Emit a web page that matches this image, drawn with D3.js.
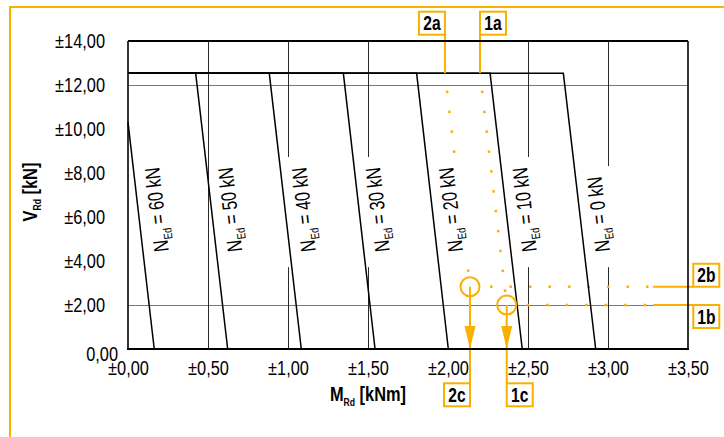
<!DOCTYPE html>
<html lang="en">
<head>
<meta charset="UTF-8">
<title>V-M Interaktion</title>
<script src="https://d3js.org/d3.v7.min.js"></script>
<style>
  body { margin: 0; background: #fff; }
  svg { display: block; font-family: "Liberation Sans", Arial, sans-serif; }
  .axis text { font-size: 21px; fill: #000; }
  .axis path, .axis line { display: none; }
</style>
</head>
<body>
<script>
// N_Ed curves, points [M_Rd, V_Rd]
var nEd = [60, 50, 40, 30, 20, 10, 0];
var curves = [
  [[0, 10.3], [0.164, 0]],
  [[0, 12.53], [0.423, 12.53], [0.623, 0]],
  [[0, 12.53], [0.883, 12.53], [1.083, 0]],
  [[0, 12.53], [1.346, 12.53], [1.544, 0]],
  [[0, 12.53], [1.804, 12.53], [2.002, 0]],
  [[0, 12.53], [2.263, 12.53], [2.464, 0]],
  [[0, 12.53], [2.721, 12.53], [2.923, 0]]
];
var capV = 12.53;
var labelV = 4.5;

var xTicks = [0, 0.5, 1, 1.5, 2, 2.5, 3, 3.5];
var yTicks = [0, 2, 4, 6, 8, 10, 12, 14];
var xGrid = [0.5, 1, 1.5, 2.5, 3];
var yGrid = [2, 12];

// reading example 1 and 2
var noteIds = ["1", "2"];
var noteMa = [2.2, 1.981];
var noteVb = [2.0, 2.83];
var noteMc = [2.367, 2.1375];
var noteSide = [1, -1];

var orange = "#F9B000";
var sx = 0.78;
var narrow = "scale(" + sx + ",1)";   // condensed look
var width = 724, height = 437;

var svg = d3.select("body").append("svg")
    .attr("width", width)
    .attr("height", height);

var x = d3.scaleLinear().domain([0, 3.5]).range([128, 688]);
var y = d3.scaleLinear().domain([0, 14]).range([349, 41]);

// orange frame
svg.append("path")
    .attr("d", "M10," + height + "V7H" + width)
    .attr("fill", "none")
    .attr("stroke", orange)
    .attr("stroke-width", 2);

// grid
var grid = svg.append("g").attr("shape-rendering", "crispEdges");
grid.selectAll(".hg").data(yGrid).enter().append("line")
    .attr("x1", x(0)).attr("x2", x(3.5))
    .attr("y1", function(d){ return y(d); })
    .attr("y2", function(d){ return y(d); })
    .attr("stroke", "#7a7a7a");
grid.selectAll(".vg").data(xGrid).enter().append("line")
    .attr("x1", function(d){ return x(d); })
    .attr("x2", function(d){ return x(d); })
    .attr("y1", y(14)).attr("y2", y(0))
    .attr("stroke", "#2a2a2a");

var dotLayer = svg.append("g");
var boxLayer = svg.append("g");
var curveLayer = svg.append("g");
var labelLayer = svg.append("g");
var annoLayer = svg.append("g");

// axes
var fmt = function(d){ return (d === 0 ? "" : "\u00b1") + d3.format(".2f")(d).replace(".", ","); };

var xAxis = svg.append("g").attr("class", "axis")
    .attr("transform", "translate(0," + y(0) + ")")
    .call(d3.axisBottom(x).tickValues(xTicks).tickSize(0).tickPadding(11)
        .tickFormat(function(d){ return "\u00b1" + d3.format(".2f")(d).replace(".", ","); }));
xAxis.selectAll("text").attr("transform", narrow);

var yAxis = svg.append("g").attr("class", "axis")
    .attr("transform", "translate(" + x(0) + ",0)")
    .call(d3.axisLeft(y).tickValues(yTicks).tickSize(0).tickFormat(fmt));
yAxis.selectAll("text").attr("x", -23 / sx).attr("transform", narrow);
yAxis.selectAll(".tick").filter(function(d){ return d === 0; }).select("text")
    .attr("x", -10 / sx).attr("dy", "0.55em");

// plot borders
var border = svg.append("g").attr("stroke", "#000");
border.append("line").attr("x1", x(0)).attr("x2", x(3.5)).attr("y1", y(14)).attr("y2", y(14)).attr("stroke-width", 2);
border.append("line").attr("x1", x(0) - 1).attr("x2", x(3.5) + 1).attr("y1", y(0)).attr("y2", y(0)).attr("stroke-width", 2.2);
border.append("line").attr("x1", x(0)).attr("x2", x(0)).attr("y1", y(14)).attr("y2", y(0)).attr("stroke-width", 1.6);
border.append("line").attr("x1", x(3.5)).attr("x2", x(3.5)).attr("y1", y(14)).attr("y2", y(0)).attr("stroke-width", 1.6);

// curves
var line = d3.line().x(function(d){ return x(d[0]); }).y(function(d){ return y(d[1]); });
curveLayer.selectAll("path").data(curves).enter().append("path")
    .attr("d", line)
    .attr("fill", "none")
    .attr("stroke", "#000")
    .attr("stroke-width", 1.5);

// curve labels (parallel to the sloped part, white box behind)
var svgRect = svg.node().getBoundingClientRect();
curves.forEach(function(c, i){
    var p1 = c[c.length - 2], p2 = c[c.length - 1];
    var t = (labelV - p2[1]) / (p1[1] - p2[1]);
    var m = p2[0] + t * (p1[0] - p2[0]);
    var ang = Math.atan2(y(p1[1]) - y(p2[1]), x(p1[0]) - x(p2[0])) * 180 / Math.PI;
    var txt = labelLayer.append("text")
        .attr("transform", "translate(" + (x(m) + 26) + "," + (y(labelV) + 1) + ") rotate(" + ang + ") " + narrow)
        .attr("font-size", 21)
        .attr("fill", "#000");
    txt.append("tspan").text("N");
    txt.append("tspan").attr("font-size", 12).attr("dy", 5).text("Ed");
    txt.append("tspan").attr("dy", -5).text(" = " + nEd[i] + " kN");
    var bb = txt.node().getBoundingClientRect();
    boxLayer.append("rect")
        .attr("x", bb.left - svgRect.left)
        .attr("y", bb.top - svgRect.top - 9)
        .attr("width", bb.width)
        .attr("height", bb.height + 23)
        .attr("fill", "#fff");
});

// axis titles
var vt = svg.append("text")
    .attr("transform", "translate(37,192) rotate(-90) " + narrow)
    .attr("text-anchor", "middle")
    .attr("font-size", 21).attr("font-weight", "bold");
vt.append("tspan").text("V");
vt.append("tspan").attr("font-size", 11).attr("dy", 4).text("Rd");
vt.append("tspan").attr("dy", -4).text(" [kN]");

var mt = svg.append("text")
    .attr("transform", "translate(368,401) " + narrow)
    .attr("text-anchor", "middle")
    .attr("font-size", 21).attr("font-weight", "bold");
mt.append("tspan").text("M");
mt.append("tspan").attr("font-size", 11).attr("dy", 5).text("Rd");
mt.append("tspan").attr("dy", -5).text(" [kNm]");

// annotations
var bw = 26, bh = 23, r = 9.5;
function tagBox(bx, by, label){
    annoLayer.append("rect")
        .attr("x", bx).attr("y", by).attr("width", bw).attr("height", bh)
        .attr("fill", "#fff").attr("stroke", orange).attr("stroke-width", 2);
    annoLayer.append("text")
        .attr("transform", "translate(" + (bx + bw / 2) + "," + (by + bh / 2 + 7) + ") " + narrow)
        .attr("text-anchor", "middle")
        .attr("font-size", 20).attr("font-weight", "bold")
        .text(label);
}
function seg(x1, y1, x2, y2){
    return annoLayer.append("line")
        .attr("x1", x1).attr("y1", y1).attr("x2", x2).attr("y2", y2)
        .attr("stroke", orange).attr("stroke-width", 2);
}

noteIds.forEach(function(id, i){
    var s = noteSide[i];
    var xa = x(noteMa[i]), ya = y(capV);
    var xc = x(noteMc[i]), yb = y(noteVb[i]);
    var aTop = 11.7, cTop = 383.3, bLeft = 693.3, solidFrom = 653;

    // a: start on the plateau
    seg(xa, aTop + bh, xa, ya);
    tagBox(s > 0 ? xa : xa - bw, aTop, id + "a");

    // dotted path parallel to the curves
    var len = Math.hypot(xc - xa, yb - ya);
    dotLayer.append("line")
        .attr("x1", xa).attr("y1", ya)
        .attr("x2", xc - (xc - xa) * r / len).attr("y2", yb - (yb - ya) * r / len)
        .attr("stroke", orange).attr("stroke-width", 2.5)
        .attr("stroke-dasharray", "0 17.5 2.5 0");

    // b: horizontal reading to V
    dotLayer.append("line")
        .attr("x1", xc + r).attr("y1", yb).attr("x2", solidFrom).attr("y2", yb)
        .attr("stroke", orange).attr("stroke-width", 2.5)
        .attr("stroke-dasharray", "2.5 17")
        .attr("stroke-dashoffset", 9);
    seg(solidFrom, yb, bLeft, yb);
    tagBox(bLeft, s > 0 ? yb : yb - bh, id + "b");

    // c: circle, arrow to the M axis
    annoLayer.append("circle")
        .attr("cx", xc).attr("cy", yb).attr("r", r)
        .attr("fill", "none").attr("stroke", orange).attr("stroke-width", 2);
    seg(xc, yb, xc, cTop);
    annoLayer.append("path")
        .attr("d", "M" + (xc - 5.5) + "," + (y(0) - 23) + "L" + (xc + 5.5) + "," + (y(0) - 23) + "L" + xc + "," + y(0) + "Z")
        .attr("fill", orange);
    tagBox(s > 0 ? xc : xc - bw, cTop, id + "c");
});
</script>
</body>
</html>
